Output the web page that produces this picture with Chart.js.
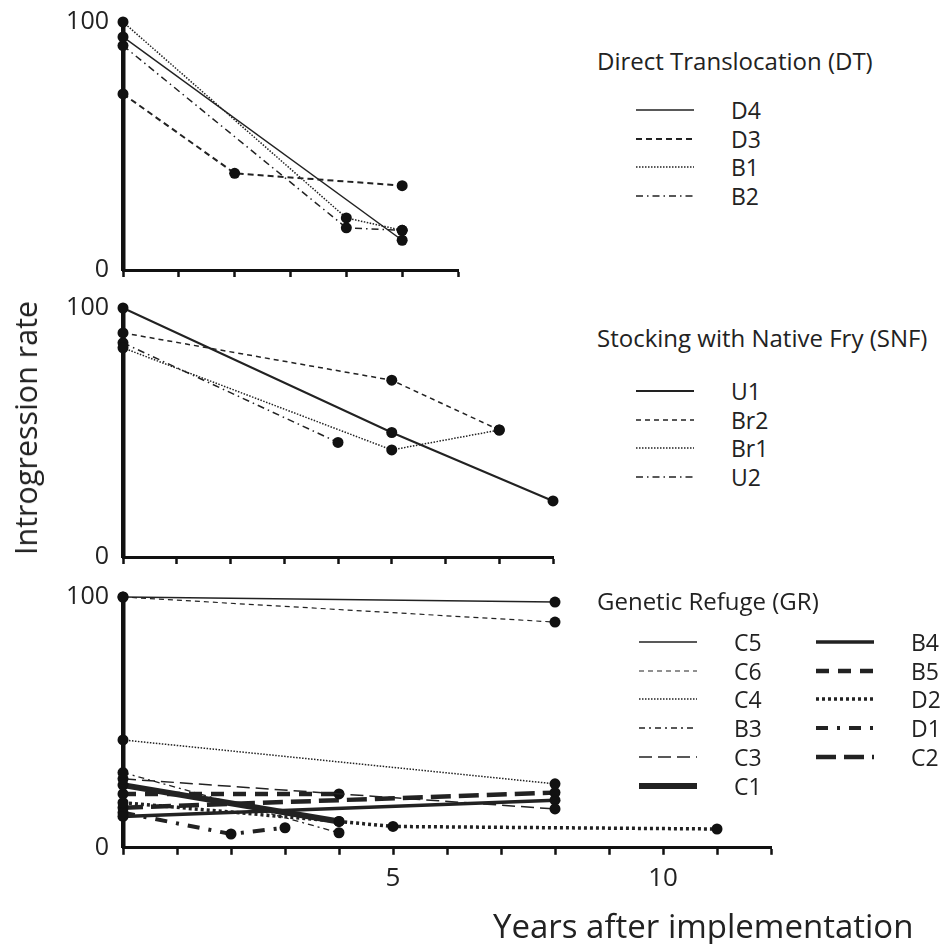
<!DOCTYPE html>
<html lang="en">
<head>
<meta charset="UTF-8">
<title>Introgression rate</title>
<script src="https://cdn.jsdelivr.net/npm/chart.js"></script>
<style>
  body {
    margin: 0;
    width: 943px;
    height: 944px;
    position: relative;
    overflow: hidden;
    background: #fff;
    font-family: 'Open Sans', sans-serif;
    color: #222;
  }
  canvas { position: absolute; left: 0; }
  #c1 { top: 0; }
  #c2 { top: 290px; }
  #c3 { top: 580px; }
  .ylabel {
    position: absolute;
    left: 25px;
    top: 428px;
    transform: translate(-50%, -50%) rotate(-90deg);
    font-size: 30.5px;
    white-space: nowrap;
  }
  .xlabel {
    position: absolute;
    left: 493px;
    top: 925px;
    transform: translateY(-50%);
    font-size: 33px;
    white-space: nowrap;
  }
  .ltitle, .lname {
    position: absolute;
    white-space: nowrap;
    transform: translateY(-50%);
  }
  .ltitle { font-size: 24px; }
  .lname { font-size: 23px; }
  .lline { position: absolute; }
</style>
</head>
<body>

<canvas id="c1" width="470" height="290"></canvas>
<canvas id="c2" width="565" height="290"></canvas>
<canvas id="c3" width="783" height="364"></canvas>
<div class="ylabel">Introgression rate</div>
<div class="xlabel">Years after implementation</div>
<div id="legends"></div>

<script>
// Direct Translocation (DT)
const dtNames = ['D4', 'D3', 'B1', 'B2'];
const dtYears = [[0, 5], [0, 2, 5], [0, 4, 5], [0, 4, 5]];
const dtRates = [[94, 12], [71, 39, 34], [100, 21, 16], [90.5, 17, 16]];

// Stocking with Native Fry (SNF)
const snfNames = ['U1', 'Br2', 'Br1', 'U2'];
const snfYears = [[0, 5, 8], [0, 5, 7], [0, 5, 7], [0, 4]];
const snfRates = [[100, 50, 22.5], [90, 71, 51], [84, 43, 51], [86, 46]];

// Genetic Refuge (GR)
const grNames = ['C5', 'C6', 'C4', 'B3', 'C3', 'C1', 'B4', 'B5', 'D2', 'D1', 'C2'];
const grYears = [[0, 8], [0, 8], [0, 8], [0, 4], [0, 8], [0, 4], [0, 8], [0, 4], [0, 4, 5, 11], [0, 2, 3], [0, 8]];
const grRates = [[100, 98], [100, 90], [43, 25.5], [30, 6], [27.5, 15.5], [25, 10.5], [12.5, 19], [21.5, 21.5], [18, 10.5, 8.5, 7.5], [14, 5.5, 8], [16, 22]];

const yTicks = [0, 100];
const xLabelTicks = [5, 10];

// line styles
const dtDash = [[], [6, 4], [1.5, 1.5], [7, 4, 1.5, 4]];
const dtWidth = [1.5, 2, 1.5, 1.5];
const snfDash = [[], [5, 4], [1.5, 1.5], [7, 4, 1.5, 4]];
const snfWidth = [2, 1.5, 1.5, 1.5];
const grDash = [[], [5, 4], [1.5, 1.5], [6, 4, 2, 4], [13, 6], [], [], [13, 9], [3, 3], [12, 9, 3, 9], [20, 8]];
const grWidth = [1.5, 1.2, 1.5, 1.3, 1.5, 6, 3.5, 4.5, 3.5, 4, 4.5];

const FONT = "'Open Sans', sans-serif";
const INK = '#222';

function makeDatasets(names, years, rates, dash, width) {
  return names.map((n, i) => ({
    label: n,
    data: years[i].map((x, j) => ({ x: x, y: rates[i][j] })),
    borderColor: INK,
    borderWidth: width[i],
    borderDash: dash[i],
    pointRadius: 5.5,
    pointBackgroundColor: '#111',
    pointBorderWidth: 0,
    tension: 0,
    clip: false
  }));
}

function makeChart(id, datasets, xMax, padTop, padBottom, showLabels) {
  return new Chart(document.getElementById(id), {
    type: 'line',
    data: { datasets: datasets },
    options: {
      responsive: false,
      animation: false,
      layout: { padding: { top: padTop, bottom: padBottom, left: 0, right: 12 } },
      plugins: { legend: { display: false }, tooltip: { enabled: false } },
      scales: {
        x: {
          type: 'linear',
          min: 0,
          max: xMax,
          grid: { drawOnChartArea: false, drawTicks: true, tickLength: 7, tickWidth: 2.5, tickColor: '#111' },
          border: { display: true, color: '#111', width: 3 },
          ticks: {
            display: showLabels,
            stepSize: 1,
            autoSkip: false,
            maxRotation: 0,
            padding: 8,
            color: INK,
            font: { family: FONT, size: 26 },
            callback: v => xLabelTicks.includes(v) ? String(v) : ''
          }
        },
        y: {
          min: yTicks[0],
          max: yTicks[1],
          afterFit: s => { s.width = 123; s.paddingTop = 0; s.paddingBottom = 0; },
          grid: { display: false, drawTicks: false },
          border: { display: true, color: '#111', width: 4.5 },
          ticks: {
            stepSize: 100,
            padding: 14,
            color: INK,
            font: { family: FONT, size: 25 }
          }
        }
      }
    }
  });
}

makeChart('c1', makeDatasets(dtNames, dtYears, dtRates, dtDash, dtWidth), 6, 22, 13, false);
makeChart('c2', makeDatasets(snfNames, snfYears, snfRates, snfDash, snfWidth), 8, 18, 16, false);
makeChart('c3', makeDatasets(grNames, grYears, grRates, grDash, grWidth), 12, 17, 42, true);

// legends (html, built from the same style arrays)
const legendBox = document.getElementById('legends');
function addLegend(title, titleY, firstRowY, names, dash, width, colX) {
  const t = document.createElement('div');
  t.className = 'ltitle';
  t.style.left = '597px';
  t.style.top = titleY + 'px';
  t.textContent = title;
  legendBox.appendChild(t);
  names.forEach((n, i) => {
    const col = Math.floor(i / 6);
    const row = i % 6;
    const y = firstRowY + row * 28.7;
    const x0 = colX[col];
    const svg = document.createElementNS('http://www.w3.org/2000/svg', 'svg');
    svg.setAttribute('class', 'lline');
    svg.setAttribute('width', 60);
    svg.setAttribute('height', 12);
    svg.style.left = x0 + 'px';
    svg.style.top = (y - 6) + 'px';
    const ln = document.createElementNS('http://www.w3.org/2000/svg', 'line');
    ln.setAttribute('x1', 0); ln.setAttribute('x2', 58);
    ln.setAttribute('y1', 6); ln.setAttribute('y2', 6);
    ln.setAttribute('stroke', INK);
    ln.setAttribute('stroke-width', width[i]);
    if (dash[i].length) ln.setAttribute('stroke-dasharray', dash[i].join(' '));
    svg.appendChild(ln);
    legendBox.appendChild(svg);
    const lab = document.createElement('div');
    lab.className = 'lname';
    lab.style.left = (x0 + 95) + 'px';
    lab.style.top = y + 'px';
    lab.textContent = n;
    legendBox.appendChild(lab);
  });
}
addLegend('Direct Translocation (DT)', 60, 110, dtNames, dtDash, dtWidth, [636]);
addLegend('Stocking with Native Fry (SNF)', 337, 391, snfNames, snfDash, snfWidth, [636]);
addLegend('Genetic Refuge (GR)', 600, 642, grNames, grDash, grWidth, [639, 816]);
</script>

</body>
</html>
